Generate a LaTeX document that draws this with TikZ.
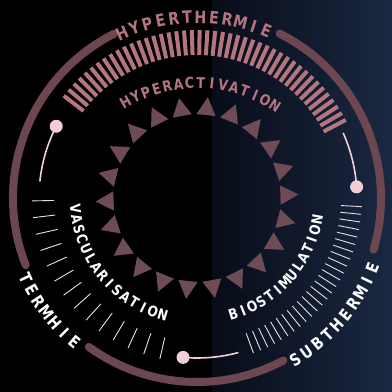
\documentclass[tikz,border=0pt]{standalone}
\usepackage{fontspec}
\setmainfont{DejaVu Sans}
\newfontfamily\rfont[FakeStretch=0.84]{DejaVu Sans}
\definecolor{ringc}{HTML}{6C4750}
\definecolor{tric}{HTML}{6E4B55}
\definecolor{pinkc}{HTML}{B4757F}
\definecolor{dotc}{HTML}{F4CED6}
\definecolor{tickc}{HTML}{E2E2E2}
\definecolor{bgA}{HTML}{080C18}
\definecolor{bgB}{HTML}{1A2842}
\newlength\rtw \newlength\rtcw \newcount\rtn
\newcommand\fontPk{\rfont\fontsize{17}{17}\selectfont\bfseries}
\newcommand\fontPs{\rfont\fontsize{15}{15}\selectfont\bfseries}
\newcommand\fontW{\rfont\fontsize{16.5}{16.5}\selectfont\bfseries}
\newcommand\fontWs{\rfont\fontsize{14.5}{14.5}\selectfont\bfseries}
% #1 radius, #2 start angle (edge), #3 end angle (edge), #4 direction (1 = ccw, tops inward; -1 = cw, tops outward)
% #5 font, #6 colour, #7 letters, #8 name prefix
\newcommand\arctext[8]{%
  \global\rtw=0pt\global\rtn=0
  \foreach \c in {#7}{\setbox0=\hbox{#5\c}\global\advance\rtw by\wd0\global\advance\rtn by1\relax}%
  \pgfmathsetmacro\rtsp{(abs(#3-#2)/57.29578*#1-\rtw)/(\rtn-1)}%
  \xdef\rtcur{#2}%
  \foreach \c [count=\i] in {#7}{%
    \setbox0=\hbox{#5\c}\global\rtcw=\wd0
    \pgfmathsetmacro\rta{\rtcur+(#4)*(\rtcw/2)/#1*57.29578}%
    \pgfmathsetmacro\rtrot{\rta+(#4)*90}%
    \node[inner sep=0pt,text=#6,font=#5,rotate=\rtrot] (#8\i) at (\rta:#1) {\c};
    \pgfmathsetmacro\rtnext{\rtcur+(#4)*(\rtcw+\rtsp)/#1*57.29578}%
    \xdef\rtcur{\rtnext}%
  }%
}
\tikzset{
  ring/.style={draw=ringc, line width=8pt, line cap=round},
  bar/.style={draw=pinkc, line width=4pt},
  tick/.style={draw=tickc, line width=0.9pt},
  dot/.style={circle, fill=dotc, inner sep=0pt, minimum size=13pt},
  conn/.style={draw=dotc, line width=1.6pt},
  tri/.style={fill=tric}
}
\begin{document}
\begin{tikzpicture}[x=1pt,y=1pt]
\useasboundingbox (-197,-194) rectangle (195,198);
\fill[black] (-197,-194) rectangle (195,198);
\shade[left color=bgA, right color=bgB] (15,-194) rectangle (195,198);
% outer ring
\draw[ring] (116.7:184) arc[start angle=116.7, end angle=201.4, radius=184];
\draw[ring] (234:184) arc[start angle=234, end angle=298, radius=184];
\draw[ring] (-16.3:184) arc[start angle=-16.3, end angle=63.3, radius=184];
% bars
\foreach \k in {0,...,43}{
  \pgfmathsetmacro\a{142.5-\k*114.8/43}
  \draw[bar] (\a:143) -- (\a:168);
}
% white ticks left
\foreach \k in {0,...,13}{
  \pgfmathsetmacro\a{181+\k*76/13}
  \draw[tick] (\a:143) -- (\a:165);
}
% white ticks right
\foreach \k in {0,...,25}{
  \pgfmathsetmacro\a{290+\k*67/25}
  \draw[tick] (\a:144) -- (\a:165);
}
% sun triangles
\foreach \k in {0,...,21}{
  \pgfmathsetmacro\a{2+\k*360/22}
  \pgfmathsetmacro\b{\a-6.6}
  \pgfmathsetmacro\cc{\a+6.6}
  \fill[tri] (\a:101.5) -- (\b:84) -- (\cc:84) -- cycle;
}
% connectors and dots
\coordinate (e1) at (174:158);
\draw[conn] (153:158) arc[start angle=153, end angle=174, radius=158];
\node[dot] (d1) at (153:158) {};
\coordinate (e2) at (24:160);
\draw[conn] (4:160) arc[start angle=4, end angle=24, radius=160];
\node[dot] (d2) at (4:160) {};
\coordinate (e3) at (285:160);
\draw[conn] (265:160) arc[start angle=265, end angle=285, radius=160];
\node[dot] (d3) at (265:160) {};
% texts
\arctext{181}{114.5}{67.5}{-1}{\fontPk}{pinkc}{H,Y,P,E,R,T,H,E,R,M,I,E}{ht}
\begin{scope}[shift={(0,-30)}]
\arctext{145}{119.5}{57.5}{-1}{\fontPs}{pinkc}{H,Y,P,E,R,A,C,T,I,V,A,T,I,O,N}{ha}
\end{scope}
\arctext{189}{205}{229.6}{1}{\fontW}{white}{T,E,R,M,H,I,E}{tm}
\arctext{189}{301.3}{338.3}{1}{\fontW}{white}{S,U,B,T,H,E,R,M,I,E}{st}
\arctext{122}{185}{253.7}{1}{\fontWs}{white}{V,A,S,C,U,L,A,R,I,S,A,T,I,O,N}{va}
\arctext{122}{287.3}{349.7}{1}{\fontWs}{white}{B,I,O,S,T,I,M,U,L,A,T,I,O,N}{bi}
\end{tikzpicture}
\end{document}
